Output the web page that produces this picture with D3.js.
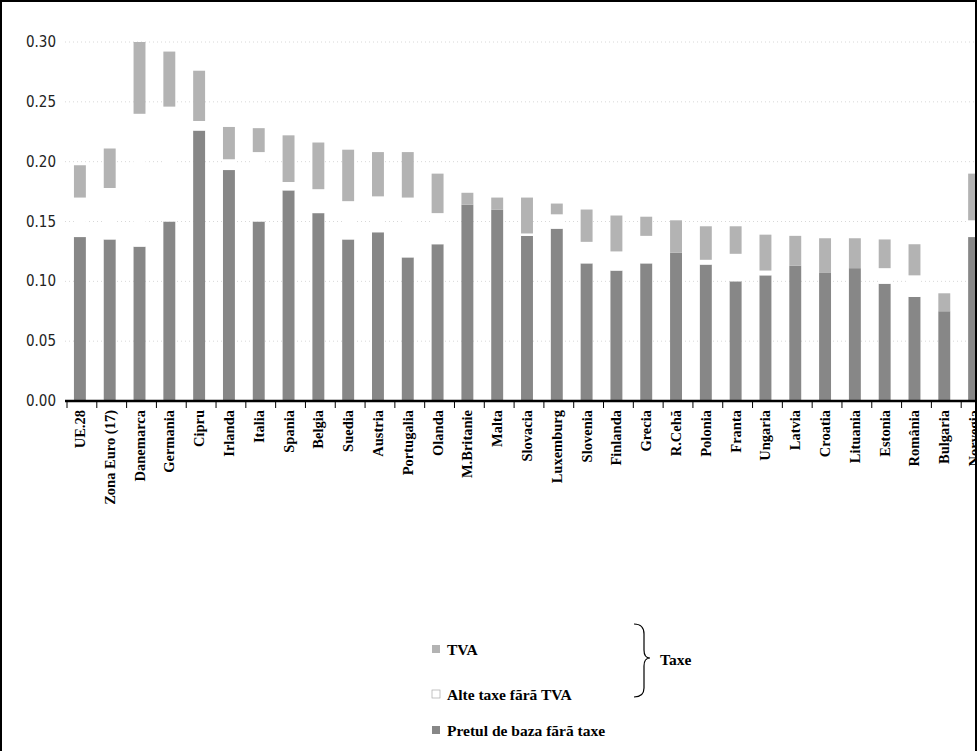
<!DOCTYPE html>
<meta charset="utf-8">
<html>
<head>
<style>
  body { margin: 0; background: #fff; }
  svg { display: block; }
  .ylbl { font-family: 'Liberation Sans Narrow', 'DejaVu Sans Condensed', sans-serif; font-size: 15px; fill: #222; }
  .xlbl { font-family: 'Liberation Serif', serif; font-size: 14.5px; font-weight: bold; fill: #000; }
  .leg { font-family: 'Liberation Serif', serif; font-size: 15.5px; font-weight: bold; fill: #000; }
</style>
</head>
<body>
<svg id="chart" width="978" height="751"></svg>
<script src="https://d3js.org/d3.v7.min.js"></script>
<script>
var countries = ["UE.28","Zona Euro (17)","Danemarca","Germania","Cipru","Irlanda","Italia","Spania","Belgia","Suedia","Austria","Portugalia","Olanda","M.Britanie","Malta","Slovacia","Luxemburg","Slovenia","Finlanda","Grecia","R.Cehă","Polonia","Franta","Ungaria","Latvia","Croatia","Lituania","Estonia","România","Bulgaria","Norvegia"];
// base price without taxes
var baza  = [0.137,0.135,0.129,0.150,0.226,0.193,0.150,0.176,0.157,0.135,0.141,0.120,0.131,0.164,0.160,0.138,0.144,0.115,0.109,0.115,0.124,0.114,0.100,0.105,0.113,0.107,0.111,0.098,0.087,0.075,0.137];
// other taxes (without VAT)
var alte  = [0.033,0.043,0.111,0.096,0.008,0.009,0.058,0.007,0.020,0.032,0.030,0.050,0.026,0.000,0.000,0.002,0.012,0.018,0.016,0.023,0.000,0.004,0.023,0.004,0.000,0.000,0.000,0.013,0.018,0.000,0.014];
// VAT
var tva   = [0.027,0.033,0.060,0.046,0.042,0.027,0.020,0.039,0.039,0.043,0.037,0.038,0.033,0.010,0.010,0.030,0.009,0.027,0.030,0.016,0.027,0.028,0.023,0.030,0.025,0.029,0.025,0.024,0.026,0.015,0.039];
var yTicks = [0, 0.05, 0.10, 0.15, 0.20, 0.25, 0.30];

var svg = d3.select("#chart");
var x = d3.scaleBand().domain(countries).range([65, 989]).paddingInner(0.6).paddingOuter(0.3);
var y = d3.scaleLinear().domain([0, 0.30]).range([401, 42]);

svg.append("defs").append("clipPath").attr("id", "clip")
  .append("rect").attr("x", 0).attr("y", 0).attr("width", 976).attr("height", 751);

var g = svg.append("g").attr("clip-path", "url(#clip)");

// grid
g.selectAll(".grid").data(yTicks.slice(1)).join("line")
  .attr("x1", 65).attr("x2", 976)
  .attr("y1", d => y(d)).attr("y2", d => y(d))
  .attr("stroke", "#d8d8d8").attr("stroke-dasharray", "1,3");

svg.selectAll(".ylbl").data(yTicks).join("text")
  .attr("class", "ylbl").attr("x", 56).attr("y", d => y(d) + 5)
  .attr("text-anchor", "end").text(d => d.toFixed(2));

var stack = countries.map(function (c, i) {
  return [
    {c: c, y0: 0, y1: baza[i], col: "#878787"},
    {c: c, y0: baza[i], y1: baza[i] + alte[i], col: "#ffffff"},
    {c: c, y0: baza[i] + alte[i], y1: baza[i] + alte[i] + tva[i], col: "#b3b3b3"}
  ];
}).flat();

g.selectAll(".bar").data(stack).join("rect")
  .attr("x", d => x(d.c)).attr("width", x.bandwidth())
  .attr("y", d => y(d.y1)).attr("height", d => y(d.y0) - y(d.y1))
  .attr("fill", d => d.col);

// axis
g.append("line").attr("x1", 65).attr("x2", 976).attr("y1", 401).attr("y2", 401)
  .attr("stroke", "#000").attr("stroke-width", 2.5);
var step = x.step();
g.selectAll(".tick").data(d3.range(countries.length + 1)).join("line")
  .attr("x1", d => 67 + d * step).attr("x2", d => 67 + d * step)
  .attr("y1", 401).attr("y2", 408).attr("stroke", "#000").attr("stroke-width", 1);

g.selectAll(".xlbl").data(countries).join("text")
  .attr("class", "xlbl")
  .attr("transform", d => "translate(" + (x(d) + x.bandwidth() / 2 + 5) + ",410) rotate(-90)")
  .attr("text-anchor", "end").text(d => d);

// legend
var legend = [
  {t: "TVA", col: "#b3b3b3", y: 655},
  {t: "Alte taxe fãrã TVA", col: "#ffffff", y: 700},
  {t: "Pretul de baza fãrã taxe", col: "#878787", y: 736}
];
legend.forEach(function (l) {
  svg.append("rect").attr("x", 432).attr("y", l.y - 10).attr("width", 8).attr("height", 8)
    .attr("fill", l.col).attr("stroke", l.col === "#ffffff" ? "#aaa" : "none").attr("stroke-width", 0.7);
  svg.append("text").attr("class", "leg").attr("x", 447).attr("y", l.y).text(l.t);
});
svg.append("path")
  .attr("d", "M634,624 Q644,624 644,634 L644,650 Q644,658 650,658 Q644,658 644,666 L644,688 Q644,697 634,697")
  .attr("fill", "none").attr("stroke", "#000").attr("stroke-width", 1.2);
svg.append("text").attr("class", "leg").attr("x", 660).attr("y", 665).text("Taxe");

// frame
svg.append("rect").attr("x", 1).attr("y", 1).attr("width", 975).attr("height", 760)
  .attr("fill", "none").attr("stroke", "#000").attr("stroke-width", 2);
</script>
</body>
</html>
